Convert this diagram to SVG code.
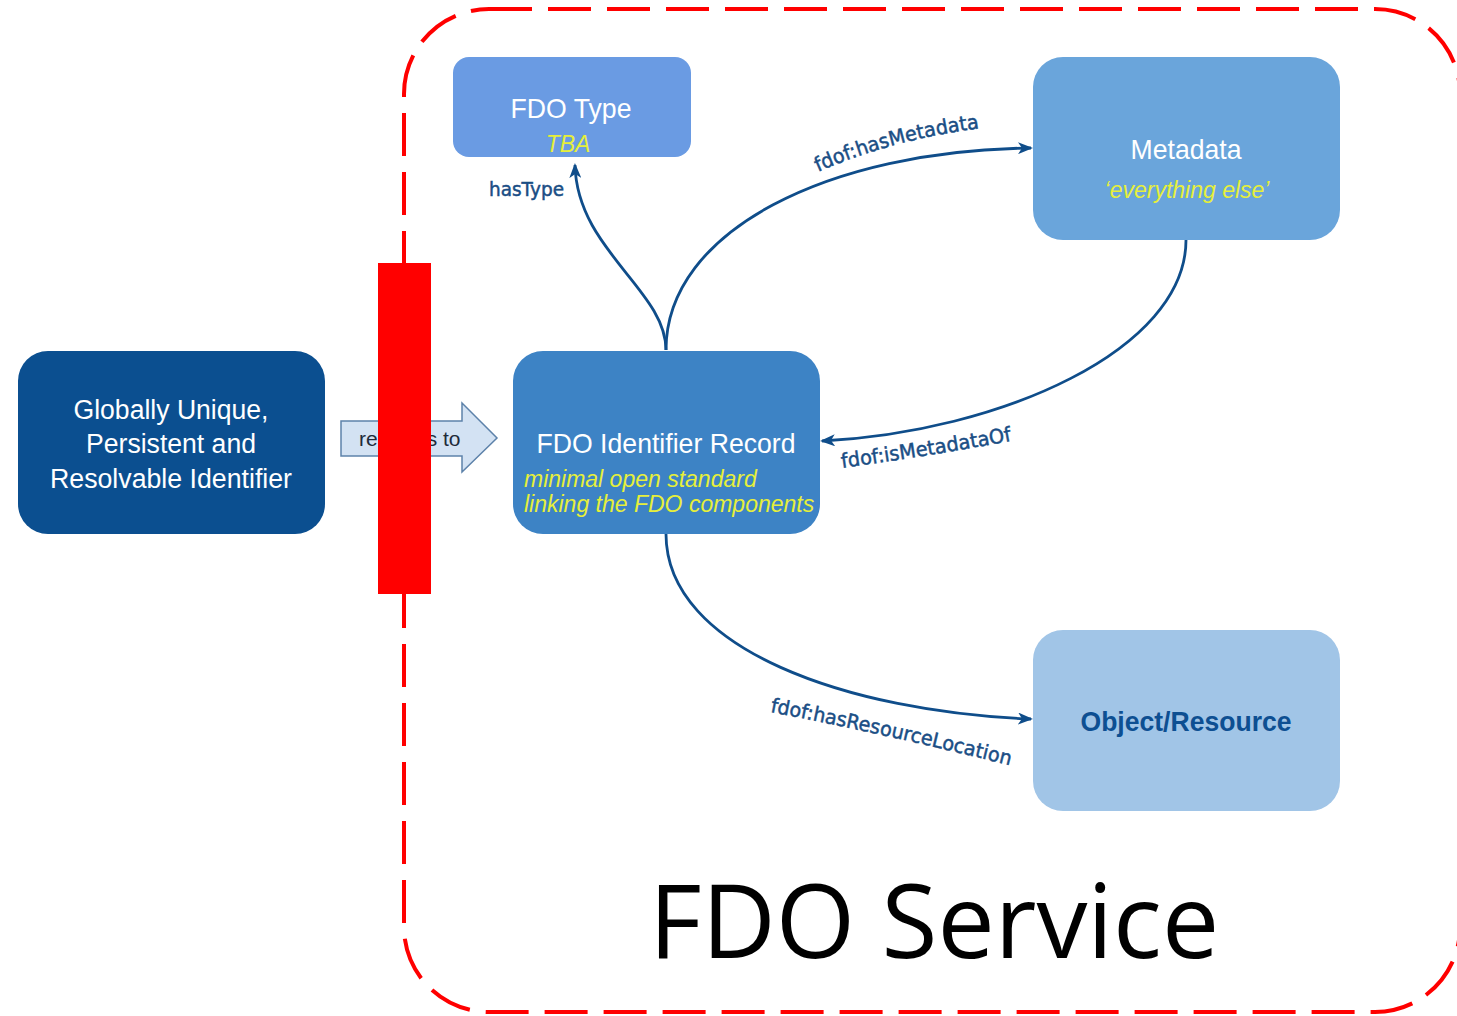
<svg xmlns="http://www.w3.org/2000/svg" width="1457" height="1016" viewBox="0 0 1457 1016">
  <defs>
    <style>
      .node-label { font-family: "Liberation Sans", Arial, sans-serif; fill: #ffffff; text-anchor: middle; }
      .note { font-family: "Liberation Sans", Arial, sans-serif; font-style: italic; fill: #e6ef3a; }
      .edge { fill: none; stroke: #0f4d8a; stroke-width: 2.8; }
      .edge-label { font-family: "DejaVu Sans", Verdana, sans-serif; fill: #1a4e85; stroke: #1a4e85; stroke-width: 0.5; font-size: 20px; }
    </style>
    <marker id="arrow" viewBox="0 0 15 12" refX="13" refY="6" markerWidth="15" markerHeight="12" markerUnits="userSpaceOnUse" orient="auto">
      <path d="M0,0 L15,6 L0,12 L4,6 Z" fill="#0f4d8a"/>
    </marker>
    <path id="lp-meta" d="M818,172 Q 895,138 990,127"/>
    <path id="lp-ismeta" d="M842,468 Q 930,456 1016,440"/>
    <path id="lp-res" d="M770,712 Q 890,735 1012,766"/>
  </defs>

  <rect width="1457" height="1016" fill="#ffffff"/>

  <!-- service boundary -->
  <rect id="fdo-service-boundary" x="404" y="9" width="1056" height="1003" rx="85" ry="85" fill="none" stroke="#ff0000" stroke-width="4" stroke-dasharray="43 16"/>

  <!-- connectors -->
  <g id="connectors">
    <path class="edge" d="M666,350 C 666,290 577,250 575,165" marker-end="url(#arrow)"/>
    <path class="edge" d="M666,350 C 666,230 830,150 1031,148" marker-end="url(#arrow)"/>
    <path class="edge" d="M1186,240 C 1186,350 1000,432 822,441" marker-end="url(#arrow)"/>
    <path class="edge" d="M666,534 C 666,650 850,712 1031,719" marker-end="url(#arrow)"/>
    <text class="edge-label" x="489" y="196" textLength="75" lengthAdjust="spacingAndGlyphs">hasType</text>
    <text class="edge-label"><textPath href="#lp-meta" textLength="168" lengthAdjust="spacingAndGlyphs">fdof:hasMetadata</textPath></text>
    <text class="edge-label"><textPath href="#lp-ismeta" textLength="172" lengthAdjust="spacingAndGlyphs">fdof:isMetadataOf</textPath></text>
    <text class="edge-label"><textPath href="#lp-res" textLength="246" lengthAdjust="spacingAndGlyphs">fdof:hasResourceLocation</textPath></text>
  </g>

  <!-- identifier -->
  <g id="node-identifier">
    <rect x="18" y="351" width="307" height="183" rx="30" fill="#0b4f90"/>
    <text class="node-label" x="171" y="419" font-size="27" textLength="195" lengthAdjust="spacingAndGlyphs">Globally Unique,</text>
    <text class="node-label" x="171" y="453" font-size="27" textLength="170" lengthAdjust="spacingAndGlyphs">Persistent and</text>
    <text class="node-label" x="171" y="488" font-size="27" textLength="242" lengthAdjust="spacingAndGlyphs">Resolvable Identifier</text>
  </g>

  <!-- resolves-to block arrow -->
  <g id="node-resolves">
    <path d="M341,421 L462,421 L462,403 L497,438 L462,472 L462,456 L341,456 Z" fill="#d3e2f3" stroke="#5d82aa" stroke-width="1.5"/>
    <text x="359" y="446" font-family="Liberation Sans, Arial, sans-serif" font-size="21" fill="#1e2b3a">resolves to</text>
  </g>

  <!-- FDO type -->
  <g id="node-fdo-type">
    <rect x="453" y="57" width="238" height="100" rx="16" fill="#6a9be3"/>
    <text class="node-label" x="571" y="118" font-size="28" textLength="121" lengthAdjust="spacingAndGlyphs">FDO Type</text>
    <text class="note" x="568" y="152" font-size="23" text-anchor="middle">TBA</text>
  </g>

  <!-- metadata -->
  <g id="node-metadata">
    <rect x="1033" y="57" width="307" height="183" rx="30" fill="#6aa5db"/>
    <text class="node-label" x="1186" y="159" font-size="28" textLength="111" lengthAdjust="spacingAndGlyphs">Metadata</text>
    <text class="note" x="1187" y="198" font-size="23" text-anchor="middle">‘everything else’</text>
  </g>

  <!-- identifier record -->
  <g id="node-identifier-record">
    <rect x="513" y="351" width="307" height="183" rx="30" fill="#3d83c5"/>
    <text class="node-label" x="666" y="453" font-size="28" textLength="259" lengthAdjust="spacingAndGlyphs">FDO Identifier Record</text>
    <text class="note" x="524" y="487" font-size="23">minimal open standard</text>
    <text class="note" x="524" y="512" font-size="23">linking the FDO components</text>
  </g>

  <!-- object / resource -->
  <g id="node-object-resource">
    <rect x="1033" y="630" width="307" height="181" rx="30" fill="#a1c5e7"/>
    <text x="1186" y="731" font-family="Liberation Sans, Arial, sans-serif" font-size="28" font-weight="bold" fill="#0d4f92" text-anchor="middle" textLength="211" lengthAdjust="spacingAndGlyphs">Object/Resource</text>
  </g>

  <!-- red bar over the boundary -->
  <rect id="red-bar" x="378" y="263" width="53" height="331" fill="#ff0000"/>

  <!-- service title -->
  <text id="service-title" x="649" y="958" font-family="Open Sans, Noto Sans, sans-serif" font-size="102" fill="#000000">FDO Service</text>
</svg>
